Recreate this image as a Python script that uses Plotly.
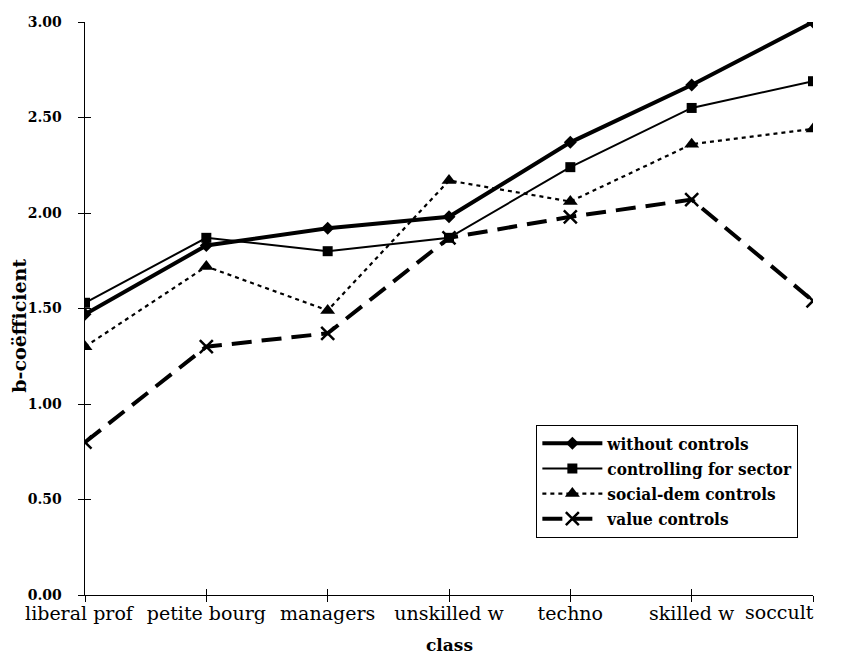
import plotly.graph_objects as go

classes = ["liberal prof", "petite bourg", "managers", "unskilled w", "techno", "skilled w", "soccult"]
without_controls = [1.47, 1.83, 1.92, 1.98, 2.37, 2.67, 3.00]
controlling_sector = [1.53, 1.87, 1.80, 1.87, 2.24, 2.55, 2.69]
social_dem = [1.30, 1.72, 1.49, 2.17, 2.06, 2.36, 2.44]
value_controls = [0.80, 1.30, 1.37, 1.87, 1.98, 2.07, 1.54]
y_ticks = [0, 0.5, 1.0, 1.5, 2.0, 2.5, 3.0]
y_ticklabels = ["0.00", "0.50", "1.00", "1.50", "2.00", "2.50", "3.00"]

xi = list(range(len(classes)))
serif = "DejaVu Serif, serif"
serif_c = "DejaVu Serif Condensed, DejaVu Serif, serif"

NB = "\u00a0"
# first label nudged inward; last label is right-aligned to its tick (drawn as annotation)
x_ticktext = list(classes)
x_ticktext[0] = classes[0] + NB * 2
x_ticktext[-1] = ""
y_ticktext = [f"<b>{t}</b>{NB * 3}" for t in y_ticklabels]

fig = go.Figure()
fig.add_trace(go.Scatter(x=xi, y=without_controls, name="<b>without controls</b>", mode="lines+markers",
                         line=dict(color="black", width=4), marker=dict(symbol="diamond", size=10, color="black")))
fig.add_trace(go.Scatter(x=xi, y=controlling_sector, name="<b>controlling for sector</b>", mode="lines+markers",
                         line=dict(color="black", width=2), marker=dict(symbol="square", size=10, color="black")))
fig.add_trace(go.Scatter(x=xi, y=social_dem, name="<b>social-dem controls</b>", mode="lines+markers",
                         line=dict(color="black", width=2.2, dash="4px,4px"),
                         marker=dict(symbol="triangle-up", size=13, color="black")))
fig.add_trace(go.Scatter(x=xi, y=value_controls, name="<b>value controls</b>", mode="lines+markers",
                         line=dict(color="black", width=4, dash="20px,10px"),
                         marker=dict(symbol="x-thin", size=13, color="black", line=dict(width=2.5, color="black"))))
# invisible trace to carry the overlay axes (inner half of crossing ticks)
fig.add_trace(go.Scatter(x=xi, y=without_controls, xaxis="x2", yaxis="y2", mode="none",
                         showlegend=False, hoverinfo="skip"))

axis_common = dict(showgrid=False, zeroline=False, showline=True, linecolor="black", linewidth=1,
                   tickcolor="black", automargin=False)

fig.update_layout(
    width=842, height=647,
    margin=dict(l=77, r=37, t=14, b=60),
    paper_bgcolor="white", plot_bgcolor="white",
    font=dict(family=serif, color="black", size=16),
    showlegend=True,
    legend=dict(x=0.62, y=0.297, xanchor="left", yanchor="top",
                bordercolor="black", borderwidth=1, bgcolor="white",
                font=dict(family=serif_c, size=17, color="black"),
                tracegroupgap=0, itemwidth=60),
    xaxis=dict(range=[0, 6], tickmode="array", tickvals=xi, ticktext=x_ticktext, tickangle=0,
               ticklabeloverflow="allow", ticklabelstandoff=-5,
               ticks="outside", ticklen=6, tickfont=dict(family=serif, size=19), **axis_common),
    yaxis=dict(range=[0, 3], tickmode="array", tickvals=y_ticks, ticktext=y_ticktext,
               ticks="outside", ticklen=6,
               tickfont=dict(family=serif, size=14), **axis_common),
    xaxis2=dict(range=[0, 6], overlaying="x", side="bottom", anchor="y", tickmode="array", tickvals=xi,
                ticks="inside", ticklen=6, showticklabels=False, **axis_common),
    yaxis2=dict(range=[0, 3], overlaying="y", side="left", anchor="x", tickmode="array", tickvals=y_ticks,
                ticks="inside", ticklen=6, showticklabels=False, **axis_common),
    annotations=[
        dict(text=classes[-1], xref="x", yref="paper", x=xi[-1], y=-0.0297,
             xanchor="right", yanchor="middle", xshift=3, showarrow=False,
             font=dict(family=serif, size=19)),
        dict(text="<b>b-coëfficient</b>", xref="paper", yref="paper", x=-0.0907, y=0.47,
             xanchor="center", yanchor="middle", textangle=-90, showarrow=False,
             font=dict(family=serif, size=19)),
        dict(text="<b>class</b>", xref="paper", yref="paper", x=0.5, y=-0.087,
             xanchor="center", yanchor="middle", showarrow=False,
             font=dict(family=serif, size=17)),
    ],
)

fig.write_html("out.html")
